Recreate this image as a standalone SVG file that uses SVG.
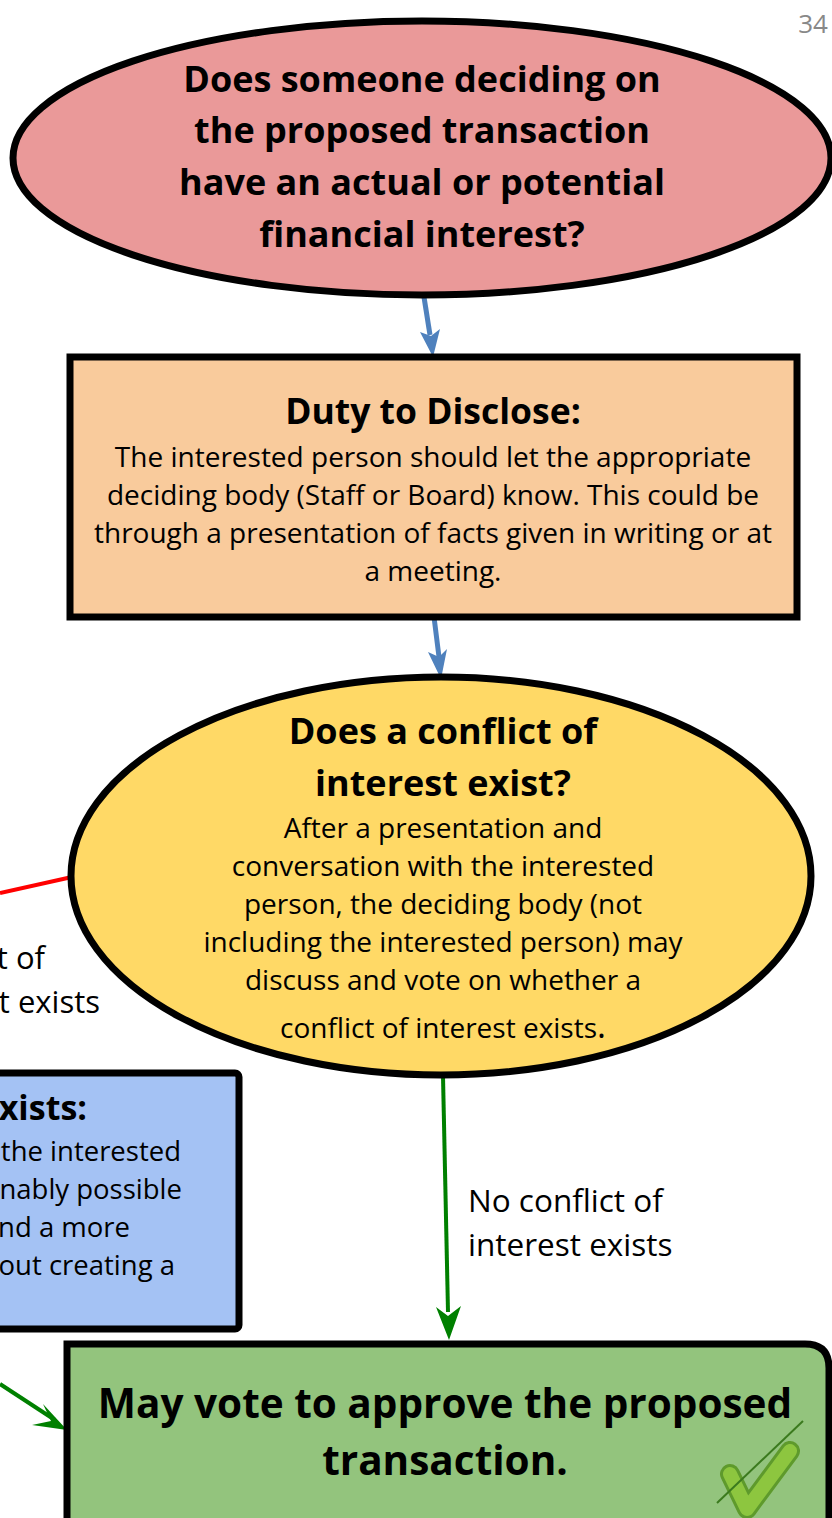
<svg xmlns="http://www.w3.org/2000/svg" width="832" height="1518" viewBox="0 0 832 1518">
<style>
text{font-family:"Open Sans","Noto Sans","Liberation Sans",sans-serif;fill:#000}
.h{font-weight:bold;font-size:36px;text-anchor:middle}
.b{font-size:28px;text-anchor:middle}
.s{stroke:#000;stroke-width:7}
.blue{stroke:#4F81BD;stroke-width:5;fill:none}
.grn{stroke:#008000;stroke-width:4;fill:none}
</style>
<text x="813" y="33" style="font-size:26px;fill:#888;text-anchor:middle">34</text>
<g id="connectors">
<line x1="424" y1="297" x2="430" y2="335" class="blue"/>
<path d="M420,332 L433,357 L440,329 L431,336 Z" fill="#4F81BD"/>
<line x1="434" y1="617" x2="439" y2="657" class="blue"/>
<path d="M428,652 L441,679 L447,649 L439,657 Z" fill="#4F81BD"/>
<line x1="72" y1="877" x2="0" y2="893" stroke="#FF0000" stroke-width="4"/>
<line x1="443" y1="1076" x2="448" y2="1312" class="grn"/>
<path d="M436,1307 L449,1340 L461,1306 L448,1316 Z" fill="#008000"/>
<line x1="0" y1="1384" x2="55" y2="1420" class="grn"/>
<path d="M43,1404 L67,1430 L32,1425 L51,1421 Z" fill="#008000"/>
</g>
<g id="n_interest">
<ellipse cx="422" cy="158" rx="409" ry="137" fill="#EA9999" class="s"/>
<text class="h" x="422" y="92">Does someone deciding on</text>
<text class="h" x="422" y="143">the proposed transaction</text>
<text class="h" x="422" y="195">have an actual or potential</text>
<text class="h" x="422" y="247">financial interest?</text>
</g>
<g id="n_disclose">
<rect x="70" y="357" width="727" height="260" fill="#F9CB9C" class="s"/>
<text class="h" x="433" y="424" style="font-size:35.5px">Duty to Disclose:</text>
<text class="b" x="433" y="467">The interested person should let the appropriate</text>
<text class="b" x="433" y="505">deciding body (Staff or Board) know. This could be</text>
<text class="b" x="433" y="543">through a presentation of facts given in writing or at</text>
<text class="b" x="433" y="581">a meeting.</text>
</g>
<g id="n_conflict">
<ellipse cx="441" cy="876" rx="370" ry="199" fill="#FFD966" class="s"/>
<text class="h" x="443" y="744">Does a conflict of</text>
<text class="h" x="443" y="796">interest exist?</text>
<text class="b" x="443" y="838">After a presentation and</text>
<text class="b" x="443" y="876">conversation with the interested</text>
<text class="b" x="443" y="914">person, the deciding body (not</text>
<text class="b" x="443" y="952">including the interested person) may</text>
<text class="b" x="443" y="990">discuss and vote on whether a</text>
<text class="b" x="443" y="1038">conflict of interest exists<tspan style="font-size:34px">.</tspan></text>
</g>
<g id="lbl_conflict">
<text x="45" y="969" style="font-size:31px;text-anchor:end">t of</text>
<text x="100" y="1013" style="font-size:31px;text-anchor:end">t exists</text>
</g>
<g id="n_exists">
<rect x="-20" y="1073" width="259" height="256" rx="4" fill="#A4C2F4" class="s"/>
<text x="87" y="1120" style="font-weight:bold;font-size:34px;text-anchor:end">xists:</text>
<text x="181" y="1161" style="font-size:27.5px;text-anchor:end">the interested</text>
<text x="182" y="1199" style="font-size:27.5px;text-anchor:end">nably possible</text>
<text x="130" y="1237" style="font-size:27.5px;text-anchor:end">nd a more</text>
<text x="175" y="1275" style="font-size:27.5px;text-anchor:end">out creating a</text>
</g>
<g id="lbl_noconflict">
<text x="468" y="1212" style="font-size:31.5px">No conflict of</text>
<text x="468" y="1256" style="font-size:31.5px">interest exists</text>
</g>
<g id="n_approve">
<path d="M67,1530 L67,1344 L805,1344 Q829,1344 829,1368 L829,1530" fill="#93C47D" class="s"/>
<text class="h" x="445" y="1418" style="font-size:40.5px">May vote to approve the proposed</text>
<text class="h" x="445" y="1475" style="font-size:40.5px">transaction.</text>
<polyline points="730,1474 747,1509 790,1451" fill="none" stroke="#5E9A2C" stroke-width="20" stroke-linecap="round" stroke-linejoin="round"/>
<polyline points="730,1474 747,1509 790,1451" fill="none" stroke="#8DC63F" stroke-width="14" stroke-linecap="round" stroke-linejoin="round"/>
<line x1="717" y1="1503" x2="803" y2="1421" stroke="#3B7A1E" stroke-width="2"/>
</g>
</svg>
